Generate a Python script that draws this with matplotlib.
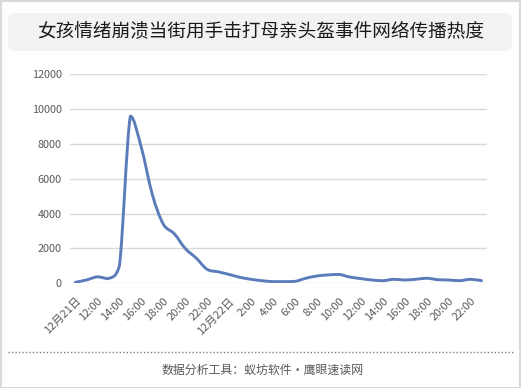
import matplotlib
matplotlib.use("Agg")
import matplotlib.pyplot as plt
from matplotlib.path import Path
from matplotlib.patches import PathPatch, FancyBboxPatch, Rectangle
import numpy as np

plt.rcParams['font.family'] = ['Noto Sans CJK SC', 'DejaVu Sans']

title = "女孩情绪崩溃当街用手击打母亲头盔事件网络传播热度"
footer = "数据分析工具：蚁坊软件・鹰眼速读网"

hours = ["12月21日", "11:00", "12:00", "13:00", "14:00", "15:00", "16:00", "17:00", "18:00",
         "19:00", "20:00", "21:00", "22:00", "23:00",
         "12月22日", "1:00", "2:00", "3:00", "4:00", "5:00", "6:00", "7:00", "8:00", "9:00",
         "10:00", "11:00", "12:00", "13:00", "14:00", "15:00", "16:00", "17:00", "18:00",
         "19:00", "20:00", "21:00", "22:00", "23:00"]
values = [60, 190, 370, 270, 1000, 9600, 7800, 5100, 3400, 2850, 2000, 1450, 800, 660,
          510, 340, 230, 150, 95, 95, 110, 290, 420, 480, 510, 360, 270, 190, 150, 230,
          190, 230, 290, 210, 190, 150, 230, 150]
yticks = [0, 2000, 4000, 6000, 8000, 10000, 12000]

W, H = 521, 388
fig = plt.figure(figsize=(W / 100, H / 100), dpi=100)

# outer border
fig.patches.append(Rectangle((0.5 / W, 0.5 / H), 1 - 1.5 / W, 1 - 1.5 / H, transform=fig.transFigure,
                             fill=False, edgecolor='#d9d9d9', linewidth=1.5))
# title box
fig.patches.append(FancyBboxPatch((8 / W, (H - 51) / H), 504 / W, 38 / H,
                                  boxstyle="round,pad=0,rounding_size=0.015",
                                  transform=fig.transFigure, facecolor='#f2f2f2',
                                  edgecolor='none', mutation_aspect=W / H))
fig.text(0.5, 1 - 32 / H, title, ha='center', va='center', fontsize=13.4, color='#1a1a1a')

ax = fig.add_axes([70 / W, (H - 283.3) / H, (487 - 70) / W, (283.3 - 74.3) / H])
n = len(values)
x = np.arange(n)
y = np.array(values, dtype=float)

# smoothed line (Excel-style, control points kept within each segment's range)
verts = [(x[0], y[0])]
codes = [Path.MOVETO]
for i in range(n - 1):
    p0 = np.array([x[max(i - 1, 0)], y[max(i - 1, 0)]])
    p1 = np.array([x[i], y[i]])
    p2 = np.array([x[i + 1], y[i + 1]])
    p3 = np.array([x[min(i + 2, n - 1)], y[min(i + 2, n - 1)]])
    c1 = p1 + (p2 - p0) / 6
    c2 = p2 - (p3 - p1) / 6
    lo, hi = min(p1[1], p2[1]), max(p1[1], p2[1])
    c1[1] = np.clip(c1[1], lo, hi)
    c2[1] = np.clip(c2[1], lo, hi)
    verts += [tuple(c1), tuple(c2), tuple(p2)]
    codes += [Path.CURVE4] * 3
ax.add_patch(PathPatch(Path(verts, codes), facecolor='none', edgecolor='#5b7cba',
                       linewidth=2.1, capstyle='round', joinstyle='round', zorder=3))

ax.set_xlim(-0.5, n - 0.5)
ax.set_ylim(0, 12000)
ax.set_yticks(yticks)
ax.set_yticklabels([str(v) for v in yticks], fontsize=7.8, color='#595959')
ax.grid(axis='y', color='#d9d9d9', linewidth=1.0)
ax.set_axisbelow(True)
for s in ax.spines.values():
    s.set_visible(False)
ax.tick_params(axis='y', length=0, pad=6)
ax.tick_params(axis='x', length=0, pad=9)
tick_idx = list(range(0, n, 2))
ax.set_xticks(tick_idx)
ax.set_xticklabels([hours[i] for i in tick_idx], rotation=45, ha='right', va='top',
                   rotation_mode='anchor', fontsize=8, color='#595959')

# dotted separator
fig.add_artist(plt.Line2D([8 / W, 513 / W], [1 - 352 / H, 1 - 352 / H], transform=fig.transFigure,
                          color='#808080', linestyle=(0, (1, 1.5)), linewidth=1.0))
fig.text(262 / W, 1 - 370 / H, footer, ha='center', va='center', fontsize=8.6, color='#595959')

fig.savefig("out.png", dpi=100)
